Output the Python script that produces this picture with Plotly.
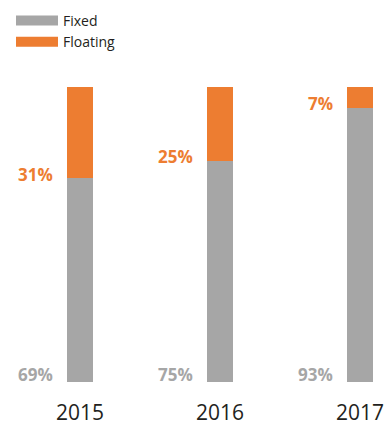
import plotly.graph_objects as go

years = ["2015", "2016", "2017"]
fixed = [69, 75, 93]
floating = [31, 25, 7]

GREY = "#a6a6a6"
ORANGE = "#ed7d31"
FONT = "Open Sans"

pos = list(range(len(years)))

fig = go.Figure()
fig.add_trace(go.Bar(x=pos, y=fixed, marker=dict(color=GREY, line=dict(width=0)),
                     width=0.18, showlegend=False, hoverinfo="skip"))
fig.add_trace(go.Bar(x=pos, y=floating, marker=dict(color=ORANGE, line=dict(width=0)),
                     width=0.18, showlegend=False, hoverinfo="skip"))
# legend entries
fig.add_trace(go.Scatter(x=[None], y=[None], mode="lines", name="Fixed",
                         line=dict(color=GREY, width=10)))
fig.add_trace(go.Scatter(x=[None], y=[None], mode="lines", name="Floating",
                         line=dict(color=ORANGE, width=10)))

ann = []
for p, yr, f, fl in zip(pos, years, fixed, floating):
    ann.append(dict(x=p, y=0, text=f"<b>{f}%</b>", showarrow=False, xanchor="right",
                    yanchor="bottom", xshift=-25, yshift=-6,
                    font=dict(family=FONT, size=17, color=GREY)))
    ann.append(dict(x=p, y=f, text=f"<b>{fl}%</b>", showarrow=False, xanchor="right",
                    yanchor="middle", xshift=-25, yshift=4,
                    font=dict(family=FONT, size=17, color=ORANGE)))
    ann.append(dict(x=p, y=-43 / 295, yref="paper", text=yr, showarrow=False,
                    xanchor="center", yanchor="bottom", yshift=-3,
                    font=dict(family=FONT, size=21, color="#231f20")))

fig.update_layout(
    width=385, height=425,
    margin=dict(l=0, r=0, t=87, b=43, autoexpand=False),
    barmode="stack",
    paper_bgcolor="white", plot_bgcolor="white",
    xaxis=dict(range=[-0.571, 2.179], showticklabels=False,
               showgrid=False, zeroline=False, showline=False, ticks=""),
    yaxis=dict(range=[0, 100], visible=False, showgrid=False, zeroline=False),
    showlegend=True,
    legend=dict(x=11 / 385, y=1 - 5 / 425, xref="container", yref="container",
                xanchor="left", yanchor="top",
                orientation="v", traceorder="normal", itemwidth=42,
                font=dict(family=FONT, size=14, color="#231f20"),
                bgcolor="rgba(0,0,0,0)", tracegroupgap=0),
    annotations=ann,
)

fig.write_html("out.html")
